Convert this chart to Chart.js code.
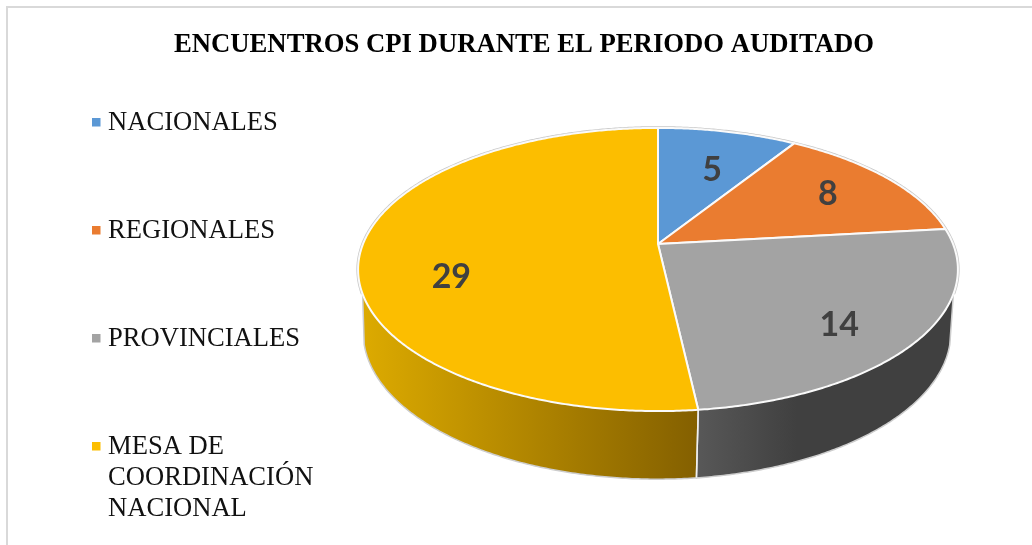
<!DOCTYPE html>
<html>
<head>
<meta charset="utf-8">
<title>Encuentros CPI</title>
<script src="https://cdn.jsdelivr.net/npm/chart.js@4"></script>
<style>
    html, body { margin: 0; padding: 0; background: #fff; }
    canvas { display: block; }
</style>
</head>
<body>
<canvas id="chart" width="1032" height="545"></canvas>
<script>
// Chart data
const chartTitle = 'ENCUENTROS CPI DURANTE EL PERIODO AUDITADO';
const categories = ['NACIONALES', 'REGIONALES', 'PROVINCIALES', 'MESA DE COORDINACIÓN NACIONAL'];
const encounters = [5, 8, 14, 29];

// Slice colours
const sliceColors = ['#5b98d5', '#ea7c30', '#a3a3a3', '#fcbe00'];
const sideStops = [null, null, ['#585858', '#404040'], ['#dcaa00', '#846000']];

// Look of the tilted pie: top and bottom rims share the same perspective
const perspective = 0.18;
const topFace = { x: 658, y: 244, rx: 295, ry: 137 };
const bottomFace = { x: 657, y: 306, rx: 289, ry: 142 };
const DEG = Math.PI / 180;

// Label placement inside the slices
const labelRadius = 0.7;
const labelShiftX = [3, 6, 6, 1];
const labelShiftY = [8, -2, 16, 28];

function project(face, angle, r = 1) {
    const X = Math.cos(angle) * r;
    const Y = Math.sin(angle) * r;
    const w = 1 - perspective * Y;
    return { x: face.x + face.rx * X / w, y: face.y + face.ry * Y / w };
}

// Trace a rim between two angles, in either direction
function traceRim(ctx, face, from, to, moveFirst) {
    const steps = Math.max(2, Math.ceil(Math.abs(to - from) / (0.5 * DEG)));
    for (let i = 0; i <= steps; i++) {
        const p = project(face, from + (to - from) * i / steps);
        if (i === 0 && moveFirst) ctx.moveTo(p.x, p.y);
        else ctx.lineTo(p.x, p.y);
    }
}

function drawSide(ctx, arc, i) {
    if (!sideStops[i]) return;
    // the top rim hides the side beyond these angles
    const topFrom = Math.max(arc.startAngle, 20 * DEG);
    const topTo = Math.min(arc.endAngle, 160 * DEG);
    const bottomFrom = Math.max(arc.startAngle, 15 * DEG);
    const bottomTo = Math.min(arc.endAngle, 165 * DEG);

    const left = project(bottomFace, bottomTo).x;
    const right = project(bottomFace, bottomFrom).x;
    const gradient = ctx.createLinearGradient(left, 0, i === 2 ? left + 100 : right, 0);
    gradient.addColorStop(0, sideStops[i][0]);
    gradient.addColorStop(1, sideStops[i][1]);
    ctx.fillStyle = gradient;

    ctx.beginPath();
    traceRim(ctx, topFace, topFrom, topTo, true);
    traceRim(ctx, bottomFace, bottomTo, bottomFrom, false);
    ctx.closePath();
    ctx.fill();

    // outer edge of the side
    const start = project(topFace, topFrom);
    const end = project(topFace, topTo);
    ctx.beginPath();
    ctx.moveTo(start.x, start.y);
    traceRim(ctx, bottomFace, bottomFrom, bottomTo, false);
    ctx.lineTo(end.x, end.y);
    ctx.strokeStyle = '#cdcdcd';
    ctx.lineWidth = 1.5;
    ctx.stroke();
}

function drawFace(ctx, arc, i) {
    ctx.beginPath();
    ctx.moveTo(topFace.x, topFace.y);
    traceRim(ctx, topFace, arc.startAngle, arc.endAngle, false);
    ctx.closePath();
    ctx.fillStyle = sliceColors[i];
    ctx.fill();
    ctx.strokeStyle = '#fafafa';
    ctx.lineWidth = 2;
    ctx.lineJoin = 'round';
    ctx.stroke();
}

const pie3d = {
    id: 'pie3d',
    beforeDraw(chart) {
        // Frame of the picture, open on the right and at the bottom
        const { ctx, width, height } = chart;
        ctx.save();
        ctx.strokeStyle = '#d9d9d9';
        ctx.lineWidth = 2;
        ctx.beginPath();
        ctx.moveTo(7, height);
        ctx.lineTo(7, 7);
        ctx.lineTo(width, 7);
        ctx.stroke();
        ctx.restore();
    },
    beforeDatasetsDraw(chart) {
        const ctx = chart.ctx;
        const arcs = chart.getDatasetMeta(0).data;
        ctx.save();

        arcs.forEach((arc, i) => drawSide(ctx, arc, i));

        // Separator between the side pieces
        arcs.forEach(arc => {
            const a = arc.startAngle;
            if (a > 20 * DEG && a < 160 * DEG) {
                const p = project(topFace, a);
                const q = project(bottomFace, a);
                ctx.beginPath();
                ctx.moveTo(p.x, p.y);
                ctx.lineTo(q.x, q.y);
                ctx.strokeStyle = '#f0f0f0';
                ctx.lineWidth = 1.5;
                ctx.stroke();
            }
        });

        // Thin grey line on the far rim
        ctx.beginPath();
        traceRim(ctx, topFace, 160 * DEG, 380 * DEG, true);
        ctx.strokeStyle = '#c8c8c8';
        ctx.lineWidth = 3.5;
        ctx.stroke();

        arcs.forEach((arc, i) => drawFace(ctx, arc, i));

        // Value labels
        ctx.font = '700 34px Lato';
        ctx.fillStyle = '#404040';
        ctx.textAlign = 'center';
        ctx.textBaseline = 'middle';
        arcs.forEach((arc, i) => {
            const p = project(topFace, (arc.startAngle + arc.endAngle) / 2, labelRadius);
            ctx.fillText(String(encounters[i]), p.x + labelShiftX[i], p.y + labelShiftY[i]);
        });

        ctx.restore();
        return false; // the tilted pie replaces the flat one
    },
    afterDraw(chart) {
        // Legend on the left, long names wrap
        const ctx = chart.ctx;
        ctx.save();
        ctx.font = '26.6px "Liberation Serif"';
        ctx.textBaseline = 'alphabetic';
        ctx.textAlign = 'left';
        categories.forEach((name, i) => {
            const baseline = Math.round(130 + i * 107.85);
            ctx.fillStyle = sliceColors[i];
            ctx.fillRect(92, baseline - 12, 8.5, 8.5);

            const lines = [];
            let line = '';
            name.split(' ').forEach(word => {
                const next = line ? line + ' ' + word : word;
                if (ctx.measureText(next).width > 215 && line) {
                    lines.push(line);
                    line = word;
                } else {
                    line = next;
                }
            });
            lines.push(line);

            ctx.fillStyle = '#111';
            lines.forEach((text, n) => ctx.fillText(text, 108, baseline + n * 31));
        });
        ctx.restore();
    }
};

new Chart(document.getElementById('chart'), {
    type: 'pie',
    data: {
        labels: categories,
        datasets: [{ data: encounters, backgroundColor: sliceColors }]
    },
    options: {
        responsive: false,
        animation: false,
        layout: { padding: { left: 16 } },
        plugins: {
            legend: { display: false },
            tooltip: { enabled: false },
            title: {
                display: true,
                text: chartTitle,
                color: '#000',
                font: { family: '"Liberation Serif"', size: 26.7, weight: 'bold' },
                padding: { top: 29, bottom: 10 }
            }
        }
    },
    plugins: [pie3d]
});
</script>
</body>
</html>
